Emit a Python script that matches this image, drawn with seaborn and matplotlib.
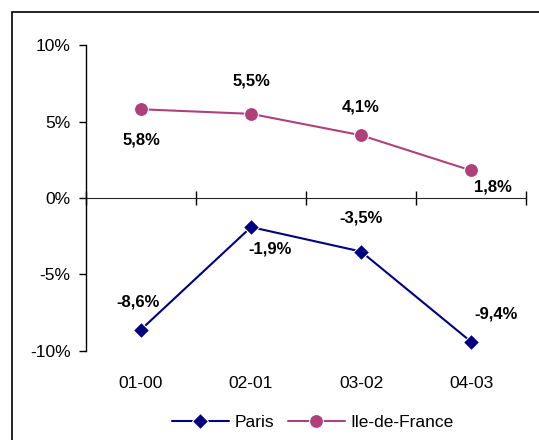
import matplotlib
matplotlib.use("Agg")
import matplotlib.pyplot as plt
import seaborn as sns
import pandas as pd
from matplotlib.patches import Rectangle

periods = ["01-00", "02-01", "03-02", "04-03"]
paris = [-8.6, -1.9, -3.5, -9.4]
idf = [5.8, 5.5, 4.1, 1.8]
yticks = [-10, -5, 0, 5, 10]

# label offsets in points (dx, dy)
paris_off = [(-2, 20), (14, -16), (0, 24), (18, 20)]
idf_off = [(0, -22), (0, 24), (0, 20), (16, -12)]

sns.set_style("white")
plt.rcParams["font.family"] = ["Liberation Sans", "DejaVu Sans"]
plt.rcParams["text.color"] = "black"
plt.rcParams["xtick.color"] = "black"
plt.rcParams["ytick.color"] = "black"

fig = plt.figure(figsize=(5.39, 4.40), dpi=100)
ax = fig.add_axes([0.1596, 0.2023, 0.8165, 0.6954])

df = pd.DataFrame({"x": list(range(4)) * 2,
                   "val": paris + idf,
                   "serie": ["Paris"] * 4 + ["Ile-de-France"] * 4})

sns.lineplot(data=df[df.serie == "Paris"], x="x", y="val", ax=ax, color="#000080",
             marker="D", markersize=8, linewidth=1.5, label="Paris")
sns.lineplot(data=df[df.serie == "Ile-de-France"], x="x", y="val", ax=ax, color="#B0407A",
             marker="o", markersize=10, linewidth=1.5, label="Ile-de-France")

for i, v in enumerate(paris):
    ax.annotate(f"{v:.1f}%".replace(".", ","), (i, v), xytext=paris_off[i],
                textcoords="offset points", ha="center", va="center",
                fontsize=12, fontweight="bold")
for i, v in enumerate(idf):
    ax.annotate(f"{v:.1f}%".replace(".", ","), (i, v), xytext=idf_off[i],
                textcoords="offset points", ha="center", va="center",
                fontsize=12, fontweight="bold")

ax.set_xlim(-0.5, 3.5)
ax.set_ylim(-10, 10)
ax.set_yticks(yticks)
ax.set_yticklabels([f"{t}%" for t in yticks], fontsize=12.5)
ax.set_xticks(range(4))
ax.set_xticklabels(periods, fontsize=12.5)
ax.tick_params(axis="x", length=0, pad=18)
ax.tick_params(axis="y", length=5, width=1, direction="out", left=True, pad=6)
ax.set_xlabel("")
ax.set_ylabel("")
for s in ["top", "right", "bottom"]:
    ax.spines[s].set_visible(False)
ax.spines["left"].set_color("black")
ax.spines["left"].set_linewidth(1)

# axis line at 0 with boundary ticks
sec = ax.secondary_xaxis(0.5)
sec.set_xticks([-0.5, 0.5, 1.5, 2.5, 3.5])
sec.set_xticklabels([])
sec.tick_params(length=5, width=1, direction="out", bottom=True)
sec.spines["bottom"].set_color("black")
sec.spines["bottom"].set_linewidth(1)

leg = ax.legend(loc="center", bbox_to_anchor=(0.515, -0.235), ncol=2, frameon=False,
                fontsize=12.5, handlelength=3.3, handletextpad=0.3, columnspacing=0.8)

fig.patches.append(Rectangle((12 / 539, -0.1), 1.2, 1 - 12 / 440 + 0.1,
                             transform=fig.transFigure, fill=False,
                             edgecolor="black", linewidth=1.2))

fig.savefig("out.png", dpi=100)
